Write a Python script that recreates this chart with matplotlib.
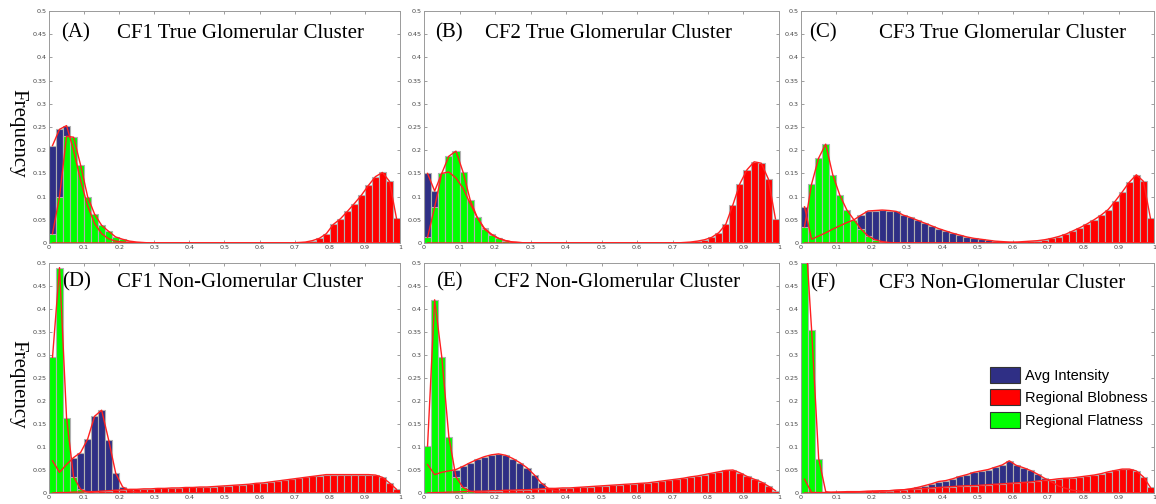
import numpy as np
import matplotlib
matplotlib.use("Agg")
import matplotlib.pyplot as plt
from matplotlib.patches import Patch
from matplotlib.ticker import FuncFormatter

# ---------------- data (bin width 0.02, 50 bins from 0 to 1) ----------------
bin_edges_start = 0.0
bin_width = 0.02
n_bins = 50

series_names = ["Avg Intensity", "Regional Blobness", "Regional Flatness"]

blue_A = [0.21, 0.245, 0.253, 0.20, 0.135, 0.08, 0.042, 0.02, 0.009, 0.004,
          0.002, 0.001, 0, 0, 0, 0, 0, 0, 0, 0,
          0, 0, 0, 0, 0, 0, 0, 0, 0, 0,
          0, 0, 0, 0, 0, 0, 0, 0, 0, 0,
          0, 0, 0, 0, 0, 0, 0, 0, 0, 0]
red_A = [0, 0, 0, 0, 0, 0, 0, 0, 0, 0,
         0, 0, 0, 0, 0, 0, 0, 0, 0, 0,
         0, 0, 0, 0, 0, 0, 0, 0, 0, 0,
         0, 0, 0, 0, 0, 0.001, 0.002, 0.005, 0.01, 0.02,
         0.04, 0.052, 0.068, 0.085, 0.103, 0.124, 0.143, 0.152, 0.133, 0.053]
green_A = [0.02, 0.10, 0.23, 0.228, 0.168, 0.10, 0.062, 0.038, 0.025, 0.013,
           0.008, 0.004, 0.002, 0.001, 0, 0, 0, 0, 0, 0,
           0, 0, 0, 0, 0, 0, 0, 0, 0, 0,
           0, 0, 0, 0, 0, 0, 0, 0, 0, 0,
           0, 0, 0, 0, 0, 0, 0, 0, 0, 0]

blue_B = [0.15, 0.112, 0.15, 0.153, 0.14, 0.118, 0.085, 0.055, 0.032, 0.019,
          0.01, 0.005, 0.002, 0.001, 0, 0, 0, 0, 0, 0,
          0, 0, 0, 0, 0, 0, 0, 0, 0, 0,
          0, 0, 0, 0, 0, 0, 0, 0, 0, 0,
          0, 0, 0, 0, 0, 0, 0, 0, 0, 0]
red_B = [0, 0, 0, 0, 0, 0, 0, 0, 0, 0,
         0, 0, 0, 0, 0, 0, 0, 0, 0, 0,
         0, 0, 0, 0, 0, 0, 0, 0, 0, 0,
         0, 0, 0, 0, 0, 0, 0.001, 0.002, 0.004, 0.007,
         0.012, 0.022, 0.04, 0.082, 0.128, 0.158, 0.175, 0.172, 0.138, 0.052]
green_B = [0.012, 0.077, 0.15, 0.187, 0.198, 0.153, 0.093, 0.055, 0.03, 0.018,
           0.01, 0.005, 0.002, 0.001, 0, 0, 0, 0, 0, 0,
           0, 0, 0, 0, 0, 0, 0, 0, 0, 0,
           0, 0, 0, 0, 0, 0, 0, 0, 0, 0,
           0, 0, 0, 0, 0, 0, 0, 0, 0, 0]

blue_C = [0.078, 0.008, 0.015, 0.022, 0.03, 0.037, 0.044, 0.05, 0.06, 0.069,
          0.07, 0.071, 0.07, 0.068, 0.06, 0.055, 0.049, 0.043, 0.037, 0.031,
          0.026, 0.021, 0.017, 0.013, 0.01, 0.008, 0.006, 0.004, 0.003, 0.002,
          0.001, 0, 0, 0, 0, 0, 0, 0, 0, 0,
          0, 0, 0, 0, 0, 0, 0, 0, 0, 0]
red_C = [0, 0, 0, 0, 0, 0, 0, 0, 0, 0,
         0, 0, 0, 0, 0, 0, 0, 0, 0, 0,
         0, 0, 0, 0, 0, 0, 0, 0, 0.001, 0.001,
         0.002, 0.003, 0.004, 0.005, 0.007, 0.01, 0.014, 0.019, 0.026, 0.033,
         0.041, 0.05, 0.06, 0.072, 0.09, 0.11, 0.131, 0.147, 0.133, 0.053]
green_C = [0.035, 0.127, 0.183, 0.213, 0.147, 0.103, 0.071, 0.05, 0.03, 0.015,
           0.007, 0.003, 0.001, 0, 0, 0, 0, 0, 0, 0,
           0, 0, 0, 0, 0, 0, 0, 0, 0, 0,
           0, 0, 0, 0, 0, 0, 0, 0, 0, 0,
           0, 0, 0, 0, 0, 0, 0, 0, 0, 0]

blue_D = [0.07, 0.045, 0.062, 0.077, 0.088, 0.117, 0.167, 0.18, 0.115, 0.043,
          0.013, 0.005, 0.002, 0.001, 0, 0, 0, 0, 0, 0,
          0, 0, 0, 0, 0, 0, 0, 0, 0, 0,
          0, 0, 0, 0, 0, 0, 0, 0, 0, 0,
          0, 0, 0, 0, 0, 0, 0, 0, 0, 0]
red_D = [0, 0.001, 0.001, 0.002, 0.002, 0.003, 0.003, 0.004, 0.005, 0.006,
         0.007, 0.008, 0.008, 0.009, 0.009, 0.01, 0.01, 0.011, 0.011, 0.012,
         0.012, 0.013, 0.013, 0.014, 0.015, 0.016, 0.017, 0.018, 0.019, 0.021,
         0.022, 0.024, 0.026, 0.028, 0.03, 0.032, 0.034, 0.036, 0.038, 0.04,
         0.04, 0.04, 0.04, 0.04, 0.04, 0.04, 0.039, 0.034, 0.022, 0.008]
green_D = [0.295, 0.49, 0.163, 0.035, 0.008, 0.002, 0, 0, 0, 0,
           0, 0, 0, 0, 0, 0, 0, 0, 0, 0,
           0, 0, 0, 0, 0, 0, 0, 0, 0, 0,
           0, 0, 0, 0, 0, 0, 0, 0, 0, 0,
           0, 0, 0, 0, 0, 0, 0, 0, 0, 0]

blue_E = [0.062, 0.04, 0.045, 0.048, 0.051, 0.058, 0.066, 0.073, 0.079, 0.083,
          0.085, 0.082, 0.075, 0.066, 0.055, 0.04, 0.022, 0.01, 0.005, 0.003,
          0.002, 0.001, 0, 0, 0, 0, 0, 0, 0, 0,
          0, 0, 0, 0, 0, 0, 0, 0, 0, 0,
          0, 0, 0, 0, 0, 0, 0, 0, 0, 0]
red_E = [0, 0.001, 0.001, 0.002, 0.002, 0.003, 0.003, 0.004, 0.004, 0.005,
         0.005, 0.006, 0.006, 0.007, 0.007, 0.008, 0.009, 0.01, 0.01, 0.011,
         0.011, 0.012, 0.013, 0.014, 0.015, 0.016, 0.017, 0.018, 0.019, 0.02,
         0.021, 0.022, 0.024, 0.026, 0.028, 0.03, 0.032, 0.035, 0.037, 0.04,
         0.043, 0.046, 0.049, 0.05, 0.044, 0.036, 0.03, 0.024, 0.015, 0.005]
green_E = [0.102, 0.42, 0.296, 0.122, 0.035, 0.012, 0.004, 0.001, 0, 0,
           0, 0, 0, 0, 0, 0, 0, 0, 0, 0,
           0, 0, 0, 0, 0, 0, 0, 0, 0, 0,
           0, 0, 0, 0, 0, 0, 0, 0, 0, 0,
           0, 0, 0, 0, 0, 0, 0, 0, 0, 0]

blue_F = [0.03, 0.001, 0.001, 0.001, 0.001, 0.002, 0.002, 0.002, 0.003, 0.003,
          0.004, 0.004, 0.005, 0.006, 0.007, 0.009, 0.012, 0.016, 0.02, 0.025,
          0.027, 0.031, 0.036, 0.04, 0.045, 0.048, 0.051, 0.056, 0.061, 0.07,
          0.06, 0.055, 0.049, 0.041, 0.032, 0.024, 0.015, 0.01, 0.006, 0.004,
          0.002, 0.001, 0, 0, 0, 0, 0, 0, 0, 0]
red_F = [0, 0, 0, 0.001, 0.002, 0.002, 0.003, 0.003, 0.003, 0.004,
         0.004, 0.005, 0.005, 0.006, 0.007, 0.008, 0.009, 0.01, 0.011, 0.012,
         0.013, 0.014, 0.015, 0.016, 0.016, 0.017, 0.018, 0.019, 0.02, 0.021,
         0.022, 0.023, 0.024, 0.026, 0.028, 0.029, 0.031, 0.032, 0.033, 0.035,
         0.037, 0.039, 0.042, 0.046, 0.049, 0.052, 0.052, 0.048, 0.035, 0.012]
green_F = [0.6, 0.355, 0.075, 0.003, 0, 0, 0, 0, 0, 0,
           0, 0, 0, 0, 0, 0, 0, 0, 0, 0,
           0, 0, 0, 0, 0, 0, 0, 0, 0, 0,
           0, 0, 0, 0, 0, 0, 0, 0, 0, 0,
           0, 0, 0, 0, 0, 0, 0, 0, 0, 0]

panel_letters = ["(A)", "(B)", "(C)", "(D)", "(E)", "(F)"]
panel_titles = ["CF1 True Glomerular Cluster", "CF2 True Glomerular Cluster",
                "CF3 True Glomerular Cluster", "CF1 Non-Glomerular Cluster",
                "CF2 Non-Glomerular Cluster", "CF3 Non-Glomerular Cluster"]
panel_data = [(blue_A, red_A, green_A), (blue_B, red_B, green_B),
              (blue_C, red_C, green_C), (blue_D, red_D, green_D),
              (blue_E, red_E, green_E), (blue_F, red_F, green_F)]
y_label = "Frequency"

# ---------------- style ----------------
BLUE = "#2f2f85"
RED = "#ff0000"
GREEN = "#00ff00"
EDGE = "#b0b0b0"
CURVE = "#ff2020"

fig = plt.figure(figsize=(11.56, 5.04), dpi=100)
W, H = 1156.0, 504.0
col_lr = [(49, 400), (424, 779), (801, 1154)]
row_tb = [(11, 243), (263, 493)]
letter_x = [0.034, 0.031, 0.023, 0.038, 0.034, 0.025]
title_x = [0.195, 0.172, 0.221, 0.193, 0.197, 0.221]
text_y = [0.905, 0.905, 0.905, 0.917, 0.917, 0.913]

centers = bin_edges_start + bin_width * (np.arange(n_bins) + 0.5)
fmt = FuncFormatter(lambda v, p: ("%g" % round(v, 3)))

axes = []
for k in range(6):
    r, c = divmod(k, 3)
    l, rr = col_lr[c]
    t, b = row_tb[r]
    ax = fig.add_axes([l / W, 1 - b / H, (rr - l) / W, (b - t) / H])
    axes.append(ax)
    blue, red, green = panel_data[k]
    for vals, col in ((blue, BLUE), (red, RED), (green, GREEN)):
        ax.bar(centers, vals, width=bin_width, color=col, edgecolor=EDGE,
               linewidth=0.8, zorder=2)
    for vals in (blue, red, green):
        ax.plot(centers, vals, color=CURVE, lw=1.0, zorder=3)
    ax.set_xlim(0, 1)
    ax.set_ylim(0, 0.5)
    ax.set_xticks(np.arange(0, 1.0001, 0.1))
    ax.set_yticks(np.arange(0, 0.5001, 0.05))
    ax.xaxis.set_major_formatter(fmt)
    ax.yaxis.set_major_formatter(fmt)
    ax.tick_params(direction="in", length=2.5, width=0.5, colors="#777777",
                   labelsize=4.6, labelcolor="#444444", top=True, right=True,
                   pad=1.5)
    for s in ax.spines.values():
        s.set_color("#9a9a9a")
        s.set_linewidth(0.7)
    ax.text(letter_x[k], text_y[k], panel_letters[k], transform=ax.transAxes,
            ha="left", va="center", fontsize=15, family="Liberation Serif",
            zorder=5)
    ax.text(title_x[k], text_y[k], panel_titles[k], transform=ax.transAxes,
            ha="left", va="center", fontsize=15, family="Liberation Serif",
            zorder=5)

for r in range(2):
    t, b = row_tb[r]
    fig.text(18 / W, 1 - ((t + b) / 2 + 6) / H, y_label, rotation=-90,
             ha="center", va="center", fontsize=15, family="Liberation Serif")

handles = [Patch(facecolor=BLUE, edgecolor="#333333", lw=0.8),
           Patch(facecolor=RED, edgecolor="#333333", lw=0.8),
           Patch(facecolor=GREEN, edgecolor="#333333", lw=0.8)]
leg = axes[5].legend(handles, series_names, loc="upper left",
                     bbox_to_anchor=(0.535, 0.548), frameon=False,
                     prop={"family": "Liberation Sans", "size": 10.5},
                     handlelength=2.1, handleheight=1.3, labelspacing=0.45,
                     handletextpad=0.3, borderpad=0, borderaxespad=0)

fig.savefig("out.png", dpi=100)
